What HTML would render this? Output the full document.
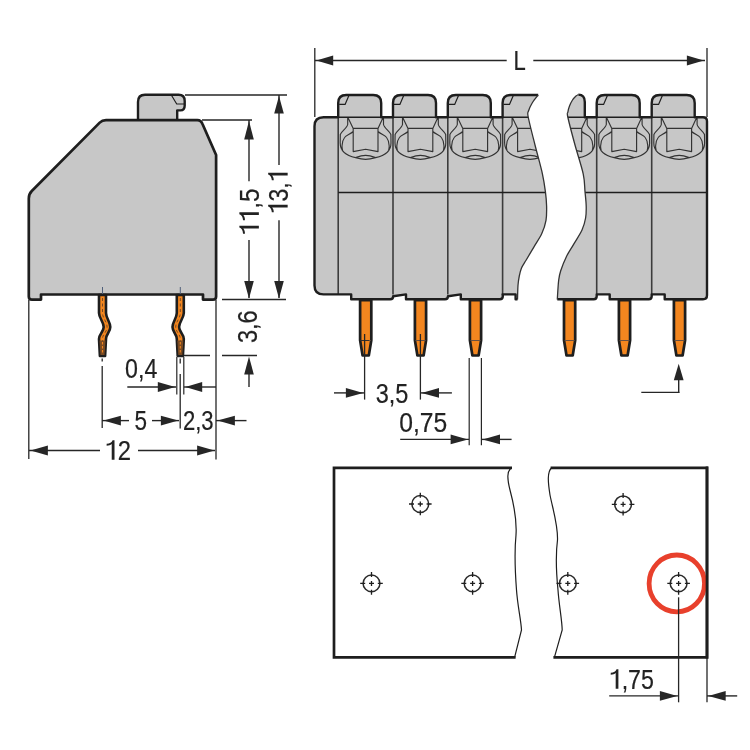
<!DOCTYPE html>
<html><head><meta charset="utf-8"><style>
html,body{margin:0;padding:0;background:#fff;width:750px;height:750px;overflow:hidden}
svg{display:block;will-change:transform}
text{font-family:"Liberation Sans",sans-serif;fill:#222}
</style></head><body>
<svg width="750" height="750" viewBox="0 0 750 750">
<rect width="750" height="750" fill="#fff"/>
<path d="M138,121 L138,102 Q138,94.8 145,94.8 L178.5,94.8 Q184.7,94.8 184.7,101 L184.7,105.5 Q184.7,110.4 180.5,110.4 L177.2,110.4 L177.2,121 Z" fill="#c7c7c7" stroke="#1e1e1e" stroke-width="2.4" stroke-linejoin="round"/>
<path d="M32,299.6 Q28.8,299.6 28.8,296.4 L28.8,198.5 Q28.8,194 31.8,191 L99.7,122.6 Q102.2,120.2 106,120.2 L197,120.2 Q201,120 202.5,124 L216.1,155 L216.1,296.4 Q216.1,299.6 212.9,299.6 L203,299.6 L203,294.5 L41,294.5 L41,299.6 Z" fill="#c7c7c7" stroke="#1e1e1e" stroke-width="2.7" stroke-linejoin="round"/>
<path d="M171.3,95 L176.7,104 L184,104" fill="none" stroke="#1e1e1e" stroke-width="1.2"/>
<path d="M99.0,295 L99.0,313 C99.0,318 103.7,322 103.7,327 C103.7,332 99.0,334 99.0,339 L99.9,356 L105.1,356 L106.0,339 C106.0,334 110.3,332 110.3,327 C110.3,322 106.0,318 106.0,313 L106.0,295 Z" fill="#f3861f" stroke="#1e1e1e" stroke-width="2.6" stroke-linejoin="round"/>
<path d="M102.5,298 L102.5,313 C102.5,318 107.1,322 107.1,327 C107.1,332 102.5,334 102.5,339 L102.5,353" fill="none" stroke="#6a4424" stroke-width="0.9" stroke-dasharray="3,2.5"/>
<path d="M99.5,340.5 L100.5,355 L104.5,355 L105.5,340.5 Z" fill="#7a4a22"/>
<path d="M102.5,342 v12" stroke="#f3861f" stroke-width="1.1" stroke-dasharray="2.5,1.5"/>
<line x1="102.5" y1="287.0" x2="102.5" y2="294.0" stroke="#50607a" stroke-width="1.00"/>
<path d="M176.8,295 L176.8,313 C176.8,318 172.5,322 172.5,327 C172.5,332 176.8,334 176.8,339 L177.7,356 L182.9,356 L183.8,339 C183.8,334 179.1,332 179.1,327 C179.1,322 183.8,318 183.8,313 L183.8,295 Z" fill="#f3861f" stroke="#1e1e1e" stroke-width="2.6" stroke-linejoin="round"/>
<path d="M180.3,298 L180.3,313 C180.3,318 175.7,322 175.7,327 C175.7,332 180.3,334 180.3,339 L180.3,353" fill="none" stroke="#6a4424" stroke-width="0.9" stroke-dasharray="3,2.5"/>
<path d="M177.3,340.5 L178.3,355 L182.3,355 L183.3,340.5 Z" fill="#7a4a22"/>
<path d="M180.3,342 v12" stroke="#f3861f" stroke-width="1.1" stroke-dasharray="2.5,1.5"/>
<line x1="180.3" y1="287.0" x2="180.3" y2="294.0" stroke="#50607a" stroke-width="1.00"/>
<line x1="185.0" y1="95.0" x2="287.0" y2="95.0" stroke="#262626" stroke-width="1.40"/>
<line x1="202.0" y1="120.0" x2="252.0" y2="120.0" stroke="#262626" stroke-width="1.40"/>
<line x1="279.0" y1="95.0" x2="279.0" y2="165.0" stroke="#262626" stroke-width="1.40"/>
<polygon points="279.0,96.0 274.2,113.4 283.8,113.4" fill="#262626"/>
<line x1="249.0" y1="120.0" x2="249.0" y2="181.3" stroke="#262626" stroke-width="1.40"/>
<polygon points="249.0,121.0 244.2,139.4 253.8,139.4" fill="#262626"/>
<line x1="249.0" y1="240.0" x2="249.0" y2="298.0" stroke="#262626" stroke-width="1.40"/>
<polygon points="249.0,298.5 244.2,281.1 253.8,281.1" fill="#262626"/>
<line x1="279.0" y1="220.3" x2="279.0" y2="298.0" stroke="#262626" stroke-width="1.40"/>
<polygon points="279.0,298.5 274.2,281.1 283.8,281.1" fill="#262626"/>
<line x1="222.0" y1="299.5" x2="286.0" y2="299.5" stroke="#262626" stroke-width="1.40"/>
<g transform="translate(258.86,235.72) rotate(-90) scale(0.8806,1)"><text font-size="27.50" stroke="#222" stroke-width="0.20">  ,5</text><path transform="translate(0.000,0) scale(27.500)" d="M0.415,0 L0.415,-0.709 L0.335,-0.709 C0.30,-0.63 0.22,-0.585 0.085,-0.575 L0.085,-0.505 C0.18,-0.505 0.25,-0.525 0.298,-0.565 L0.298,0 Z" fill="#222"/><path transform="translate(15.295,0) scale(27.500)" d="M0.415,0 L0.415,-0.709 L0.335,-0.709 C0.30,-0.63 0.22,-0.585 0.085,-0.575 L0.085,-0.505 C0.18,-0.505 0.25,-0.525 0.298,-0.565 L0.298,0 Z" fill="#222"/></g>
<g transform="translate(287.66,214.33) rotate(-90) scale(0.8380,1)"><text font-size="27.50" stroke="#222" stroke-width="0.20"> 3, </text><path transform="translate(0.000,0) scale(27.500)" d="M0.415,0 L0.415,-0.709 L0.335,-0.709 C0.30,-0.63 0.22,-0.585 0.085,-0.575 L0.085,-0.505 C0.18,-0.505 0.25,-0.525 0.298,-0.565 L0.298,0 Z" fill="#222"/><path transform="translate(38.230,0) scale(27.500)" d="M0.415,0 L0.415,-0.709 L0.335,-0.709 C0.30,-0.63 0.22,-0.585 0.085,-0.575 L0.085,-0.505 C0.18,-0.505 0.25,-0.525 0.298,-0.565 L0.298,0 Z" fill="#222"/></g>
<line x1="184.0" y1="355.5" x2="210.0" y2="355.5" stroke="#262626" stroke-width="1.50"/>
<line x1="222.0" y1="355.5" x2="257.0" y2="355.5" stroke="#262626" stroke-width="1.50"/>
<polygon points="249.0,356.5 244.2,374.4 253.8,374.4" fill="#262626"/>
<line x1="249.0" y1="372.0" x2="249.0" y2="387.0" stroke="#262626" stroke-width="1.40"/>
<g transform="translate(257.46,343.08) rotate(-90) scale(0.8577,1)"><text font-size="27.50" stroke="#222" stroke-width="0.20">3,6</text></g>
<line x1="176.8" y1="357.0" x2="176.8" y2="394.5" stroke="#262626" stroke-width="1.20"/>
<line x1="183.8" y1="357.0" x2="183.8" y2="394.5" stroke="#262626" stroke-width="1.20"/>
<line x1="127.3" y1="387.0" x2="176.0" y2="387.0" stroke="#262626" stroke-width="1.40"/>
<polygon points="175.2,387.0 157.8,382.1 157.8,391.9" fill="#262626"/>
<line x1="184.0" y1="387.0" x2="216.0" y2="387.0" stroke="#262626" stroke-width="1.40"/>
<polygon points="185.3,387.0 202.2,382.1 202.2,391.9" fill="#262626"/>
<g transform="translate(125.07,377.56) scale(0.8441,1)"><text font-size="27.50" stroke="#222" stroke-width="0.20">0,4</text></g>
<line x1="28.8" y1="300.0" x2="28.8" y2="459.0" stroke="#262626" stroke-width="1.30"/>
<line x1="216.0" y1="300.0" x2="216.0" y2="459.5" stroke="#262626" stroke-width="1.30"/>
<path d="M102.2,358.5 v3 M102.2,366 v62" stroke="#262626" stroke-width="1.3"/>
<path d="M180.2,358.5 v5 M180.2,374 v54.5" stroke="#262626" stroke-width="1.3"/>
<line x1="102.0" y1="420.6" x2="129.0" y2="420.6" stroke="#262626" stroke-width="1.40"/>
<polygon points="103.5,420.6 120.9,415.7 120.9,425.5" fill="#262626"/>
<line x1="152.0" y1="420.6" x2="179.0" y2="420.6" stroke="#262626" stroke-width="1.40"/>
<polygon points="178.3,420.6 160.9,415.7 160.9,425.5" fill="#262626"/>
<g transform="translate(134.40,429.56) scale(0.8191,1)"><text font-size="27.50" stroke="#222" stroke-width="0.20">5</text></g>
<g transform="translate(182.89,429.56) scale(0.8043,1)"><text font-size="27.50" stroke="#222" stroke-width="0.20">2,3</text></g>
<line x1="216.0" y1="420.6" x2="246.5" y2="420.6" stroke="#262626" stroke-width="1.40"/>
<polygon points="217.5,420.6 234.9,415.7 234.9,425.5" fill="#262626"/>
<line x1="29.0" y1="450.5" x2="100.0" y2="450.5" stroke="#262626" stroke-width="1.40"/>
<polygon points="30.5,450.5 47.9,445.6 47.9,455.4" fill="#262626"/>
<line x1="138.0" y1="450.5" x2="215.0" y2="450.5" stroke="#262626" stroke-width="1.40"/>
<polygon points="214.5,450.5 197.1,445.6 197.1,455.4" fill="#262626"/>
<g transform="translate(104.61,459.66) scale(0.8676,1)"><text font-size="27.50" stroke="#222" stroke-width="0.20"> 2</text><path transform="translate(0.000,0) scale(27.500)" d="M0.415,0 L0.415,-0.709 L0.335,-0.709 C0.30,-0.63 0.22,-0.585 0.085,-0.575 L0.085,-0.505 C0.18,-0.505 0.25,-0.525 0.298,-0.565 L0.298,0 Z" fill="#222"/></g>
<path d="M538.2,95 L510.6,95 Q502.6,95 502.6,103 L502.6,117.2 L490.8,117.2 L490.8,103.0 Q490.8,95.0 482.8,95.0 L455.8,95.0 Q447.8,95.0 447.8,103.0 L447.8,117.2 L436.0,117.2 L436.0,103.0 Q436.0,95.0 428.0,95.0 L401.0,95.0 Q393.0,95.0 393.0,103.0 L393.0,117.2 L381.2,117.2 L381.2,103.0 Q381.2,95.0 373.2,95.0 L346.2,95.0 Q338.2,95.0 338.2,103.0 L338.2,117.2 L323.5,117.2 Q314.5,117.2 314.5,126.2 L314.5,285.4 Q314.5,294.4 323.5,294.4 L351.2,294.4 L351.2,299.2 L390.2,299.2 Q393.2,299.2 393.2,296.2 L406.0,294.4 L406.0,299.2 L445.0,299.2 Q448.0,299.2 448.0,296.2 L460.8,294.4 L460.8,299.2 L499.8,299.2 Q502.8,299.2 502.8,296.2 L502.6,294.4 L515.6,294.4 L515.6,299.2 L517.5,299.2 L517.5,299.5 C517.6,297.1 517.7,289.2 518.0,285.3 C518.3,281.4 518.7,278.9 519.3,276.0 C519.9,273.1 520.4,270.7 521.5,268.0 C522.6,265.3 524.1,263.5 526.2,260.0 C528.3,256.5 531.4,251.2 534.0,246.8 C536.6,242.4 539.8,238.0 541.8,233.6 C543.8,229.2 545.2,225.0 546.0,220.4 C546.8,215.8 546.7,210.8 546.6,206.0 C546.5,201.2 546.1,197.0 545.4,191.6 C544.7,186.2 544.1,181.6 542.4,173.8 C540.7,166.0 537.4,154.5 535.0,145.0 C532.6,135.5 529.3,122.7 528.2,117.0 C527.1,111.3 527.9,113.1 528.6,110.8 C529.3,108.5 530.6,105.6 532.2,103.0 C533.8,100.4 537.2,96.3 538.2,95.0 Z" fill="#c7c7c7" stroke="none"/>
<path d="M578.4,94.6 L578.4,94.6 Q584.8,94.6 584.8,102 L584.8,117.2 L596.7,117.2 L596.7,103.0 Q596.7,95.0 604.7,95.0 L631.7,95.0 Q639.7,95.0 639.7,103.0 L639.7,117.2 L651.7,117.2 L651.7,103.0 Q651.7,95.0 659.7,95.0 L686.7,95.0 Q694.7,95.0 694.7,103.0 L694.7,117.2 L703,117.2 Q707,117.2 707,121.2 L707,295.2 Q707,299.2 703,299.2 L664.7,299.2 L664.7,294.4 L651.7,294.4 L651.7,296.2 Q651.7,299.2 648.7,299.2 L609.7,299.2 L609.7,294.4 L596.7,294.4 L596.7,296.2 Q596.7,299.2 593.7,299.2 L557.3,299.2 L557.3,299.5 C557.5,296.2 558.1,284.8 558.7,280.0 C559.3,275.2 559.4,274.7 560.7,270.7 C562.0,266.7 564.6,260.4 566.7,256.0 C568.9,251.6 571.1,248.7 573.6,244.4 C576.1,240.1 580.0,234.4 582.0,230.0 C584.0,225.6 584.9,222.0 585.6,218.0 C586.3,214.0 586.3,210.4 586.2,206.0 C586.1,201.6 585.5,197.0 585.0,191.6 C584.5,186.2 584.9,181.6 583.2,173.8 C581.5,166.0 577.6,154.5 575.0,145.0 C572.4,135.5 569.0,122.5 567.8,117.0 C566.6,111.5 567.6,113.8 567.9,112.0 C568.2,110.2 568.7,108.0 569.5,106.0 C570.3,104.0 571.4,101.7 572.5,100.0 C573.6,98.3 575.0,96.9 576.0,96.0 C577.0,95.1 578.0,94.8 578.4,94.6 Z" fill="#c7c7c7" stroke="none"/>
<clipPath id="cl"><path d="M538.2,95 L510.6,95 Q502.6,95 502.6,103 L502.6,117.2 L490.8,117.2 L490.8,103.0 Q490.8,95.0 482.8,95.0 L455.8,95.0 Q447.8,95.0 447.8,103.0 L447.8,117.2 L436.0,117.2 L436.0,103.0 Q436.0,95.0 428.0,95.0 L401.0,95.0 Q393.0,95.0 393.0,103.0 L393.0,117.2 L381.2,117.2 L381.2,103.0 Q381.2,95.0 373.2,95.0 L346.2,95.0 Q338.2,95.0 338.2,103.0 L338.2,117.2 L323.5,117.2 Q314.5,117.2 314.5,126.2 L314.5,285.4 Q314.5,294.4 323.5,294.4 L351.2,294.4 L351.2,299.2 L390.2,299.2 Q393.2,299.2 393.2,296.2 L406.0,294.4 L406.0,299.2 L445.0,299.2 Q448.0,299.2 448.0,296.2 L460.8,294.4 L460.8,299.2 L499.8,299.2 Q502.8,299.2 502.8,296.2 L502.6,294.4 L515.6,294.4 L515.6,299.2 L517.5,299.2 L517.5,299.5 C517.6,297.1 517.7,289.2 518.0,285.3 C518.3,281.4 518.7,278.9 519.3,276.0 C519.9,273.1 520.4,270.7 521.5,268.0 C522.6,265.3 524.1,263.5 526.2,260.0 C528.3,256.5 531.4,251.2 534.0,246.8 C536.6,242.4 539.8,238.0 541.8,233.6 C543.8,229.2 545.2,225.0 546.0,220.4 C546.8,215.8 546.7,210.8 546.6,206.0 C546.5,201.2 546.1,197.0 545.4,191.6 C544.7,186.2 544.1,181.6 542.4,173.8 C540.7,166.0 537.4,154.5 535.0,145.0 C532.6,135.5 529.3,122.7 528.2,117.0 C527.1,111.3 527.9,113.1 528.6,110.8 C529.3,108.5 530.6,105.6 532.2,103.0 C533.8,100.4 537.2,96.3 538.2,95.0 Z"/></clipPath>
<clipPath id="cr"><path d="M578.4,94.6 L578.4,94.6 Q584.8,94.6 584.8,102 L584.8,117.2 L596.7,117.2 L596.7,103.0 Q596.7,95.0 604.7,95.0 L631.7,95.0 Q639.7,95.0 639.7,103.0 L639.7,117.2 L651.7,117.2 L651.7,103.0 Q651.7,95.0 659.7,95.0 L686.7,95.0 Q694.7,95.0 694.7,103.0 L694.7,117.2 L703,117.2 Q707,117.2 707,121.2 L707,295.2 Q707,299.2 703,299.2 L664.7,299.2 L664.7,294.4 L651.7,294.4 L651.7,296.2 Q651.7,299.2 648.7,299.2 L609.7,299.2 L609.7,294.4 L596.7,294.4 L596.7,296.2 Q596.7,299.2 593.7,299.2 L557.3,299.2 L557.3,299.5 C557.5,296.2 558.1,284.8 558.7,280.0 C559.3,275.2 559.4,274.7 560.7,270.7 C562.0,266.7 564.6,260.4 566.7,256.0 C568.9,251.6 571.1,248.7 573.6,244.4 C576.1,240.1 580.0,234.4 582.0,230.0 C584.0,225.6 584.9,222.0 585.6,218.0 C586.3,214.0 586.3,210.4 586.2,206.0 C586.1,201.6 585.5,197.0 585.0,191.6 C584.5,186.2 584.9,181.6 583.2,173.8 C581.5,166.0 577.6,154.5 575.0,145.0 C572.4,135.5 569.0,122.5 567.8,117.0 C566.6,111.5 567.6,113.8 567.9,112.0 C568.2,110.2 568.7,108.0 569.5,106.0 C570.3,104.0 571.4,101.7 572.5,100.0 C573.6,98.3 575.0,96.9 576.0,96.0 C577.0,95.1 578.0,94.8 578.4,94.6 Z"/></clipPath>
<g clip-path="url(#cl)">
<path d="M347.8,117.2 L353.2,128.4 L378.0,128.4 L383.2,117.2 M353.2,128.4 L353.2,151.6 L365.6,149.3 L378.0,151.6 L378.0,128.4 M347.7,117.2 L347.7,124.5 C347.1,128 341.6,131 340.3,134.5 L340.2,143 C340.2,150 345.6,155.5 355.6,157.6 Q361.6,159.3 365.6,159.3 M355.6,157.6 Q361.6,155.4 365.6,155.4 M353.2,131.5 C350.6,134 346.1,135.5 344.6,137.5 C342.6,140 342.1,143 342.0,146 C342.0,148 342.1,149 342.6,150.5 M383.5,117.2 L383.5,124.5 C384.1,128 389.6,131 390.9,134.5 L391.0,143 C391.0,150 385.6,155.5 375.6,157.6 Q369.6,159.3 365.6,159.3 M375.6,157.6 Q369.6,155.4 365.6,155.4 M378.0,131.5 C380.6,134 385.1,135.5 386.6,137.5 C388.6,140 389.1,143 389.2,146 C389.2,148 389.1,149 388.6,150.5" fill="none" stroke="#333333" stroke-width="1.15" stroke-linejoin="round"/>
<path d="M402.6,117.2 L408.0,128.4 L432.8,128.4 L438.0,117.2 M408.0,128.4 L408.0,151.6 L420.4,149.3 L432.8,151.6 L432.8,128.4 M402.5,117.2 L402.5,124.5 C401.9,128 396.4,131 395.1,134.5 L395.0,143 C395.0,150 400.4,155.5 410.4,157.6 Q416.4,159.3 420.4,159.3 M410.4,157.6 Q416.4,155.4 420.4,155.4 M408.0,131.5 C405.4,134 400.9,135.5 399.4,137.5 C397.4,140 396.9,143 396.8,146 C396.8,148 396.9,149 397.4,150.5 M438.3,117.2 L438.3,124.5 C438.9,128 444.4,131 445.7,134.5 L445.8,143 C445.8,150 440.4,155.5 430.4,157.6 Q424.4,159.3 420.4,159.3 M430.4,157.6 Q424.4,155.4 420.4,155.4 M432.8,131.5 C435.4,134 439.9,135.5 441.4,137.5 C443.4,140 443.9,143 444.0,146 C444.0,148 443.9,149 443.4,150.5" fill="none" stroke="#333333" stroke-width="1.15" stroke-linejoin="round"/>
<path d="M457.4,117.2 L462.8,128.4 L487.6,128.4 L492.8,117.2 M462.8,128.4 L462.8,151.6 L475.2,149.3 L487.6,151.6 L487.6,128.4 M457.3,117.2 L457.3,124.5 C456.7,128 451.2,131 449.9,134.5 L449.8,143 C449.8,150 455.2,155.5 465.2,157.6 Q471.2,159.3 475.2,159.3 M465.2,157.6 Q471.2,155.4 475.2,155.4 M462.8,131.5 C460.2,134 455.7,135.5 454.2,137.5 C452.2,140 451.7,143 451.6,146 C451.6,148 451.7,149 452.2,150.5 M493.1,117.2 L493.1,124.5 C493.7,128 499.2,131 500.5,134.5 L500.6,143 C500.6,150 495.2,155.5 485.2,157.6 Q479.2,159.3 475.2,159.3 M485.2,157.6 Q479.2,155.4 475.2,155.4 M487.6,131.5 C490.2,134 494.7,135.5 496.2,137.5 C498.2,140 498.7,143 498.8,146 C498.8,148 498.7,149 498.2,150.5" fill="none" stroke="#333333" stroke-width="1.15" stroke-linejoin="round"/>
<path d="M512.2,117.2 L517.6,128.4 L542.4,128.4 L547.6,117.2 M517.6,128.4 L517.6,151.6 L530.0,149.3 L542.4,151.6 L542.4,128.4 M512.1,117.2 L512.1,124.5 C511.5,128 506.0,131 504.7,134.5 L504.6,143 C504.6,150 510.0,155.5 520.0,157.6 Q526.0,159.3 530.0,159.3 M520.0,157.6 Q526.0,155.4 530.0,155.4 M517.6,131.5 C515.0,134 510.5,135.5 509.0,137.5 C507.0,140 506.5,143 506.4,146 C506.4,148 506.5,149 507.0,150.5 M547.9,117.2 L547.9,124.5 C548.5,128 554.0,131 555.3,134.5 L555.4,143 C555.4,150 550.0,155.5 540.0,157.6 Q534.0,159.3 530.0,159.3 M540.0,157.6 Q534.0,155.4 530.0,155.4 M542.4,131.5 C545.0,134 549.5,135.5 551.0,137.5 C553.0,140 553.5,143 553.6,146 C553.6,148 553.5,149 553.0,150.5" fill="none" stroke="#333333" stroke-width="1.15" stroke-linejoin="round"/>
<line x1="338.2" y1="117.2" x2="338.2" y2="294.4" stroke="#3c3c3c" stroke-width="1.60"/>
<line x1="393.0" y1="117.2" x2="393.0" y2="294.4" stroke="#3c3c3c" stroke-width="1.60"/>
<line x1="447.8" y1="117.2" x2="447.8" y2="294.4" stroke="#3c3c3c" stroke-width="1.60"/>
<line x1="502.6" y1="117.2" x2="502.6" y2="294.4" stroke="#3c3c3c" stroke-width="1.60"/>
<line x1="314.5" y1="117.2" x2="545.0" y2="117.2" stroke="#1e1e1e" stroke-width="1.50"/>
<line x1="338.2" y1="192.4" x2="560.0" y2="192.4" stroke="#1e1e1e" stroke-width="1.50"/>
</g>
<g clip-path="url(#cr)">
<path d="M551.5,117.2 L556.9,128.4 L581.7,128.4 L586.9,117.2 M556.9,128.4 L556.9,151.6 L569.3,149.3 L581.7,151.6 L581.7,128.4 M551.4,117.2 L551.4,124.5 C550.8,128 545.3,131 544.0,134.5 L543.9,143 C543.9,150 549.3,155.5 559.3,157.6 Q565.3,159.3 569.3,159.3 M559.3,157.6 Q565.3,155.4 569.3,155.4 M556.9,131.5 C554.3,134 549.8,135.5 548.3,137.5 C546.3,140 545.8,143 545.7,146 C545.7,148 545.8,149 546.3,150.5 M587.2,117.2 L587.2,124.5 C587.8,128 593.3,131 594.6,134.5 L594.7,143 C594.7,150 589.3,155.5 579.3,157.6 Q573.3,159.3 569.3,159.3 M579.3,157.6 Q573.3,155.4 569.3,155.4 M581.7,131.5 C584.3,134 588.8,135.5 590.3,137.5 C592.3,140 592.8,143 592.9,146 C592.9,148 592.8,149 592.3,150.5" fill="none" stroke="#333333" stroke-width="1.15" stroke-linejoin="round"/>
<path d="M606.4,117.2 L611.8,128.4 L636.6,128.4 L641.8,117.2 M611.8,128.4 L611.8,151.6 L624.2,149.3 L636.6,151.6 L636.6,128.4 M606.3,117.2 L606.3,124.5 C605.7,128 600.2,131 598.9,134.5 L598.8,143 C598.8,150 604.2,155.5 614.2,157.6 Q620.2,159.3 624.2,159.3 M614.2,157.6 Q620.2,155.4 624.2,155.4 M611.8,131.5 C609.2,134 604.7,135.5 603.2,137.5 C601.2,140 600.7,143 600.6,146 C600.6,148 600.7,149 601.2,150.5 M642.1,117.2 L642.1,124.5 C642.7,128 648.2,131 649.5,134.5 L649.6,143 C649.6,150 644.2,155.5 634.2,157.6 Q628.2,159.3 624.2,159.3 M634.2,157.6 Q628.2,155.4 624.2,155.4 M636.6,131.5 C639.2,134 643.7,135.5 645.2,137.5 C647.2,140 647.7,143 647.8,146 C647.8,148 647.7,149 647.2,150.5" fill="none" stroke="#333333" stroke-width="1.15" stroke-linejoin="round"/>
<path d="M661.4,117.2 L666.8,128.4 L691.6,128.4 L696.8,117.2 M666.8,128.4 L666.8,151.6 L679.2,149.3 L691.6,151.6 L691.6,128.4 M661.3,117.2 L661.3,124.5 C660.7,128 655.2,131 653.9,134.5 L653.8,143 C653.8,150 659.2,155.5 669.2,157.6 Q675.2,159.3 679.2,159.3 M669.2,157.6 Q675.2,155.4 679.2,155.4 M666.8,131.5 C664.2,134 659.7,135.5 658.2,137.5 C656.2,140 655.7,143 655.6,146 C655.6,148 655.7,149 656.2,150.5 M697.1,117.2 L697.1,124.5 C697.7,128 703.2,131 704.5,134.5 L704.6,143 C704.6,150 699.2,155.5 689.2,157.6 Q683.2,159.3 679.2,159.3 M689.2,157.6 Q683.2,155.4 679.2,155.4 M691.6,131.5 C694.2,134 698.7,135.5 700.2,137.5 C702.2,140 702.7,143 702.8,146 C702.8,148 702.7,149 702.2,150.5" fill="none" stroke="#333333" stroke-width="1.15" stroke-linejoin="round"/>
<line x1="596.7" y1="117.2" x2="596.7" y2="294.4" stroke="#3c3c3c" stroke-width="1.60"/>
<line x1="651.7" y1="117.2" x2="651.7" y2="294.4" stroke="#3c3c3c" stroke-width="1.60"/>
<line x1="550.0" y1="117.2" x2="707.0" y2="117.2" stroke="#1e1e1e" stroke-width="1.50"/>
<line x1="550.0" y1="192.4" x2="707.0" y2="192.4" stroke="#1e1e1e" stroke-width="1.50"/>
</g>
<path d="M538.2,95 L510.6,95 Q502.6,95 502.6,103 L502.6,117.2 L490.8,117.2 L490.8,103.0 Q490.8,95.0 482.8,95.0 L455.8,95.0 Q447.8,95.0 447.8,103.0 L447.8,117.2 L436.0,117.2 L436.0,103.0 Q436.0,95.0 428.0,95.0 L401.0,95.0 Q393.0,95.0 393.0,103.0 L393.0,117.2 L381.2,117.2 L381.2,103.0 Q381.2,95.0 373.2,95.0 L346.2,95.0 Q338.2,95.0 338.2,103.0 L338.2,117.2 L323.5,117.2 Q314.5,117.2 314.5,126.2 L314.5,285.4 Q314.5,294.4 323.5,294.4 L351.2,294.4 L351.2,299.2 L390.2,299.2 Q393.2,299.2 393.2,296.2 L406.0,294.4 L406.0,299.2 L445.0,299.2 Q448.0,299.2 448.0,296.2 L460.8,294.4 L460.8,299.2 L499.8,299.2 Q502.8,299.2 502.8,296.2 L502.6,294.4 L515.6,294.4 L515.6,299.2 L517.5,299.2" fill="none" stroke="#1e1e1e" stroke-width="2.4" stroke-linejoin="round"/>
<path d="M578.4,94.6 L578.4,94.6 Q584.8,94.6 584.8,102 L584.8,117.2 L596.7,117.2 L596.7,103.0 Q596.7,95.0 604.7,95.0 L631.7,95.0 Q639.7,95.0 639.7,103.0 L639.7,117.2 L651.7,117.2 L651.7,103.0 Q651.7,95.0 659.7,95.0 L686.7,95.0 Q694.7,95.0 694.7,103.0 L694.7,117.2 L703,117.2 Q707,117.2 707,121.2 L707,295.2 Q707,299.2 703,299.2 L664.7,299.2 L664.7,294.4 L651.7,294.4 L651.7,296.2 Q651.7,299.2 648.7,299.2 L609.7,299.2 L609.7,294.4 L596.7,294.4 L596.7,296.2 Q596.7,299.2 593.7,299.2 L557.3,299.2" fill="none" stroke="#1e1e1e" stroke-width="2.4" stroke-linejoin="round"/>
<path d="M538.2,95.0 C537.2,96.3 533.8,100.4 532.2,103.0 C530.6,105.6 529.3,108.5 528.6,110.8 C527.9,113.1 527.1,111.3 528.2,117.0 C529.3,122.7 532.6,135.5 535.0,145.0 C537.4,154.5 540.7,166.0 542.4,173.8 C544.1,181.6 544.7,186.2 545.4,191.6 C546.1,197.0 546.5,201.2 546.6,206.0 C546.7,210.8 546.8,215.8 546.0,220.4 C545.2,225.0 543.8,229.2 541.8,233.6 C539.8,238.0 536.6,242.4 534.0,246.8 C531.4,251.2 528.3,256.5 526.2,260.0 C524.1,263.5 522.6,265.3 521.5,268.0 C520.4,270.7 519.9,273.1 519.3,276.0 C518.7,278.9 518.3,281.4 518.0,285.3 C517.7,289.2 517.6,297.1 517.5,299.5 " fill="none" stroke="#333333" stroke-width="1.3"/>
<path d="M557.3,299.5 C557.5,296.2 558.1,284.8 558.7,280.0 C559.3,275.2 559.4,274.7 560.7,270.7 C562.0,266.7 564.6,260.4 566.7,256.0 C568.9,251.6 571.1,248.7 573.6,244.4 C576.1,240.1 580.0,234.4 582.0,230.0 C584.0,225.6 584.9,222.0 585.6,218.0 C586.3,214.0 586.3,210.4 586.2,206.0 C586.1,201.6 585.5,197.0 585.0,191.6 C584.5,186.2 584.9,181.6 583.2,173.8 C581.5,166.0 577.6,154.5 575.0,145.0 C572.4,135.5 569.0,122.5 567.8,117.0 C566.6,111.5 567.6,113.8 567.9,112.0 C568.2,110.2 568.7,108.0 569.5,106.0 C570.3,104.0 571.4,101.7 572.5,100.0 C573.6,98.3 575.0,96.9 576.0,96.0 C577.0,95.1 578.0,94.8 578.4,94.6 " fill="none" stroke="#333333" stroke-width="1.3"/>
<path d="M348.9,95.5 L345.1,104.4 L339.2,104.4" fill="none" stroke="#1e1e1e" stroke-width="1.2"/>
<path d="M403.7,95.5 L399.9,104.4 L394.0,104.4" fill="none" stroke="#1e1e1e" stroke-width="1.2"/>
<path d="M458.5,95.5 L454.7,104.4 L448.8,104.4" fill="none" stroke="#1e1e1e" stroke-width="1.2"/>
<path d="M513.3,95.5 L509.5,104.4 L503.6,104.4" fill="none" stroke="#1e1e1e" stroke-width="1.2"/>
<path d="M607.4,95.5 L603.6,104.4 L597.7,104.4" fill="none" stroke="#1e1e1e" stroke-width="1.2"/>
<path d="M662.4,95.5 L658.6,104.4 L652.7,104.4" fill="none" stroke="#1e1e1e" stroke-width="1.2"/>
<path d="M360.1,300.2 L360.1,340.3 L362.6,355.5 L368.8,355.5 L371.3,340.3 L371.3,300.2 Z" fill="#f3861f" stroke="#1e1e1e" stroke-width="2.7" stroke-linejoin="round"/>
<line x1="360.7" y1="340.5" x2="370.7" y2="340.5" stroke="#6a5040" stroke-width="1.00"/>
<path d="M414.9,300.2 L414.9,340.3 L417.4,355.5 L423.6,355.5 L426.1,340.3 L426.1,300.2 Z" fill="#f3861f" stroke="#1e1e1e" stroke-width="2.7" stroke-linejoin="round"/>
<line x1="415.5" y1="340.5" x2="425.5" y2="340.5" stroke="#6a5040" stroke-width="1.00"/>
<path d="M469.9,300.2 L469.9,340.3 L472.4,355.5 L478.6,355.5 L481.1,340.3 L481.1,300.2 Z" fill="#f3861f" stroke="#1e1e1e" stroke-width="2.7" stroke-linejoin="round"/>
<line x1="470.5" y1="340.5" x2="480.5" y2="340.5" stroke="#6a5040" stroke-width="1.00"/>
<path d="M564.0,300.2 L564.0,340.3 L566.5,355.5 L572.7,355.5 L575.2,340.3 L575.2,300.2 Z" fill="#f3861f" stroke="#1e1e1e" stroke-width="2.7" stroke-linejoin="round"/>
<line x1="564.6" y1="340.5" x2="574.6" y2="340.5" stroke="#6a5040" stroke-width="1.00"/>
<path d="M618.9,300.2 L618.9,340.3 L621.4,355.5 L627.6,355.5 L630.1,340.3 L630.1,300.2 Z" fill="#f3861f" stroke="#1e1e1e" stroke-width="2.7" stroke-linejoin="round"/>
<line x1="619.5" y1="340.5" x2="629.5" y2="340.5" stroke="#6a5040" stroke-width="1.00"/>
<path d="M673.9,300.2 L673.9,340.3 L676.4,355.5 L682.6,355.5 L685.1,340.3 L685.1,300.2 Z" fill="#f3861f" stroke="#1e1e1e" stroke-width="2.7" stroke-linejoin="round"/>
<line x1="674.5" y1="340.5" x2="684.5" y2="340.5" stroke="#6a5040" stroke-width="1.00"/>
<line x1="364.6" y1="334.0" x2="364.6" y2="399.6" stroke="#262626" stroke-width="1.30"/>
<line x1="420.4" y1="334.0" x2="420.4" y2="399.6" stroke="#262626" stroke-width="1.30"/>
<line x1="360.7" y1="340.5" x2="369.0" y2="340.5" stroke="#262626" stroke-width="0.80"/>
<line x1="314.8" y1="48.0" x2="314.8" y2="117.0" stroke="#262626" stroke-width="1.30"/>
<line x1="707.0" y1="48.0" x2="707.0" y2="117.0" stroke="#262626" stroke-width="1.30"/>
<line x1="315.0" y1="60.5" x2="506.7" y2="60.5" stroke="#262626" stroke-width="1.40"/>
<polygon points="316.3,60.5 333.2,55.6 333.2,65.4" fill="#262626"/>
<line x1="533.3" y1="60.5" x2="705.0" y2="60.5" stroke="#262626" stroke-width="1.40"/>
<polygon points="703.8,60.5 686.9,55.6 686.9,65.4" fill="#262626"/>
<g transform="translate(513.48,69.86) scale(0.8017,1)"><text font-size="27.50" stroke="#222" stroke-width="0.20">L</text></g>
<line x1="334.0" y1="392.9" x2="364.0" y2="392.9" stroke="#262626" stroke-width="1.40"/>
<polygon points="363.3,392.9 345.9,388.0 345.9,397.8" fill="#262626"/>
<line x1="420.5" y1="392.9" x2="451.9" y2="392.9" stroke="#262626" stroke-width="1.40"/>
<polygon points="421.6,392.9 439.0,388.0 439.0,397.8" fill="#262626"/>
<g transform="translate(375.72,403.36) scale(0.8561,1)"><text font-size="27.50" stroke="#222" stroke-width="0.20">3,5</text></g>
<line x1="469.2" y1="358.0" x2="469.2" y2="445.3" stroke="#262626" stroke-width="1.20"/>
<line x1="481.4" y1="358.0" x2="481.4" y2="445.3" stroke="#262626" stroke-width="1.20"/>
<line x1="400.2" y1="439.4" x2="469.0" y2="439.4" stroke="#262626" stroke-width="1.40"/>
<polygon points="468.0,439.4 450.6,434.5 450.6,444.3" fill="#262626"/>
<line x1="481.4" y1="439.4" x2="511.6" y2="439.4" stroke="#262626" stroke-width="1.40"/>
<polygon points="482.6,439.4 500.0,434.5 500.0,444.3" fill="#262626"/>
<g transform="translate(399.21,431.66) scale(0.8969,1)"><text font-size="27.50" stroke="#222" stroke-width="0.20">0,75</text></g>
<line x1="641.3" y1="392.4" x2="679.4" y2="392.4" stroke="#262626" stroke-width="1.40"/>
<line x1="678.7" y1="379.0" x2="678.7" y2="393.0" stroke="#262626" stroke-width="1.40"/>
<polygon points="678.7,363.8 673.8,380.2 683.6,380.2" fill="#262626"/>
<path d="M512,467.8 L334,467.8 L334,657.3 L515.6,657.3" fill="none" stroke="#1e1e1e" stroke-width="2.7"/>
<path d="M511,467.8 C507,472 507,478 510,490 C514,505 517,520 516,535 C514.5,550 515,570 516.5,590 C517.5,605 521,620 521.5,630 L514.6,657.3" fill="none" stroke="#1e1e1e" stroke-width="1.2"/>
<path d="M550.6,467.8 L707,467.8 L707,657.3 L553.4,657.3" fill="none" stroke="#1e1e1e" stroke-width="2.7"/>
<path d="M551.6,467.8 C547,472 548,482 550,495 C553,510 558,525 557.5,540 C555.5,555 556.5,575 558,590 C559,605 562,620 562.2,630 L554.4,657.3" fill="none" stroke="#1e1e1e" stroke-width="1.2"/>
<circle cx="420.3" cy="504.0" r="8.4" fill="none" stroke="#2a2a2a" stroke-width="1.5"/>
<path d="M409.0,504.0 h5 M426.6,504.0 h5 M420.3,492.7 v5 M420.3,510.3 v5 M417.8,504.0 h5 M420.3,501.5 v5" stroke="#1e1e1e" stroke-width="1.3" fill="none"/>
<circle cx="371.5" cy="583.4" r="8.4" fill="none" stroke="#2a2a2a" stroke-width="1.5"/>
<path d="M360.2,583.4 h5 M377.8,583.4 h5 M371.5,572.1 v5 M371.5,589.7 v5 M369.0,583.4 h5 M371.5,580.9 v5" stroke="#1e1e1e" stroke-width="1.3" fill="none"/>
<circle cx="472.6" cy="583.4" r="8.4" fill="none" stroke="#2a2a2a" stroke-width="1.5"/>
<path d="M461.3,583.4 h5 M478.9,583.4 h5 M472.6,572.1 v5 M472.6,589.7 v5 M470.1,583.4 h5 M472.6,580.9 v5" stroke="#1e1e1e" stroke-width="1.3" fill="none"/>
<circle cx="623.1" cy="504.3" r="8.4" fill="none" stroke="#2a2a2a" stroke-width="1.5"/>
<path d="M611.8,504.3 h5 M629.4,504.3 h5 M623.1,493.0 v5 M623.1,510.6 v5 M620.6,504.3 h5 M623.1,501.8 v5" stroke="#1e1e1e" stroke-width="1.3" fill="none"/>
<circle cx="567.8" cy="583.4" r="8.4" fill="none" stroke="#2a2a2a" stroke-width="1.5"/>
<path d="M556.5,583.4 h5 M574.1,583.4 h5 M567.8,572.1 v5 M567.8,589.7 v5 M565.3,583.4 h5 M567.8,580.9 v5" stroke="#1e1e1e" stroke-width="1.3" fill="none"/>
<circle cx="678.6" cy="583.4" r="8.4" fill="none" stroke="#2a2a2a" stroke-width="1.5"/>
<path d="M667.3,583.4 h5 M684.9,583.4 h5 M678.6,572.1 v5 M678.6,589.7 v5 M676.1,583.4 h5 M678.6,580.9 v5" stroke="#1e1e1e" stroke-width="1.3" fill="none"/>
<ellipse cx="676.8" cy="583.4" rx="27.7" ry="28.4" fill="none" stroke="#e8402c" stroke-width="4.8"/>
<line x1="707" y1="466.5" x2="707" y2="658.6" stroke="#1e1e1e" stroke-width="2.7"/>
<line x1="678.6" y1="597.3" x2="678.6" y2="702.3" stroke="#262626" stroke-width="1.30"/>
<line x1="707.0" y1="658.0" x2="707.0" y2="702.3" stroke="#262626" stroke-width="1.30"/>
<line x1="609.2" y1="695.9" x2="678.0" y2="695.9" stroke="#262626" stroke-width="1.40"/>
<polygon points="677.3,695.9 659.9,691.0 659.9,700.8" fill="#262626"/>
<line x1="707.0" y1="695.9" x2="737.2" y2="695.9" stroke="#262626" stroke-width="1.40"/>
<polygon points="708.3,695.9 725.7,691.0 725.7,700.8" fill="#262626"/>
<g transform="translate(608.76,688.66) scale(0.8445,1)"><text font-size="27.50" stroke="#222" stroke-width="0.20"> ,75</text><path transform="translate(0.000,0) scale(27.500)" d="M0.415,0 L0.415,-0.709 L0.335,-0.709 C0.30,-0.63 0.22,-0.585 0.085,-0.575 L0.085,-0.505 C0.18,-0.505 0.25,-0.525 0.298,-0.565 L0.298,0 Z" fill="#222"/></g>
</svg></body></html>
